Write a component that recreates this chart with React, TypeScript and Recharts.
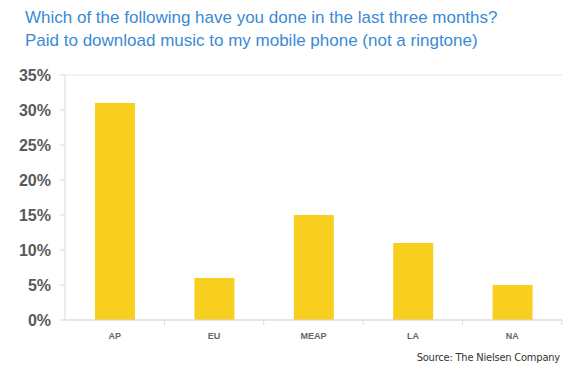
import React from 'react';
import { BarChart, Bar, XAxis, YAxis, CartesianGrid } from 'recharts';

const regions = ['AP', 'EU', 'MEAP', 'LA', 'NA'];
const shares = [31, 6, 15, 11, 5];
const yTicks = [0, 5, 10, 15, 20, 25, 30, 35];

const chartData = regions.map((region, i) => ({ region, share: shares[i] }));

const W = 575;
const H = 369;
const margin = { top: 75, right: 13, left: 0, bottom: 19 };
const yAxisWidth = 65;
const bandWidth = (W - margin.left - yAxisWidth - margin.right) / regions.length;

const RegionTick: React.FC<any> = ({ x, y, payload }) => (
  <g>
    <line x1={x + bandWidth / 2} y1={y - 8} x2={x + bandWidth / 2} y2={y - 3} stroke="#d9d9d9" />
    <text x={x} y={y + 11} textAnchor="middle" fontSize={9} fontWeight="bold" fill="#666" fontFamily="Arial, 'Liberation Sans', sans-serif">
      {payload.value}
    </text>
  </g>
);

export default function App() {
  return (
    <div style={{ position: 'absolute', left: 0, top: 0, width: W, height: H, background: '#fff', fontFamily: "Arial, 'Liberation Sans', sans-serif" }}>
      <div style={{ position: 'absolute', left: 25, top: 6, color: '#3a8ad6', fontSize: 17, lineHeight: '23px' }}>
        Which of the following have you done in the last three months?
        <br />
        Paid to download music to my mobile phone (not a ringtone)
      </div>
      <BarChart width={W} height={H} data={chartData} margin={margin}>
        <CartesianGrid vertical={false} stroke="#e6e6e6" />
        <XAxis
          dataKey="region"
          axisLine={{ stroke: '#d9d9d9' }}
          tickLine={false}
          tick={<RegionTick />}
          height={30}
        />
        <YAxis
          yAxisId="left"
          domain={[0, 35]}
          ticks={yTicks}
          width={yAxisWidth}
          axisLine={{ stroke: '#d9d9d9' }}
          tickLine={{ stroke: '#d9d9d9' }}
          tickSize={5}
          tickMargin={9}
          tickFormatter={(v: number) => `${v}%`}
          tick={{ fill: '#595959', fontSize: 16, fontWeight: 'bold' }}
        />
        <YAxis yAxisId="right" orientation="right" width={0} domain={[0, 35]} axisLine={{ stroke: '#d9d9d9' }} tick={false} tickLine={false} />
        <Bar yAxisId="left" dataKey="share" fill="#f8ce1f" barSize={40} isAnimationActive={false} />
      </BarChart>
      <div style={{ position: 'absolute', right: 15, top: 351, fontSize: 11, color: '#333', fontFamily: "'DejaVu Sans Condensed', 'DejaVu Sans', sans-serif", letterSpacing: -0.2 }}>
        Source: The Nielsen Company
      </div>
    </div>
  );
}
